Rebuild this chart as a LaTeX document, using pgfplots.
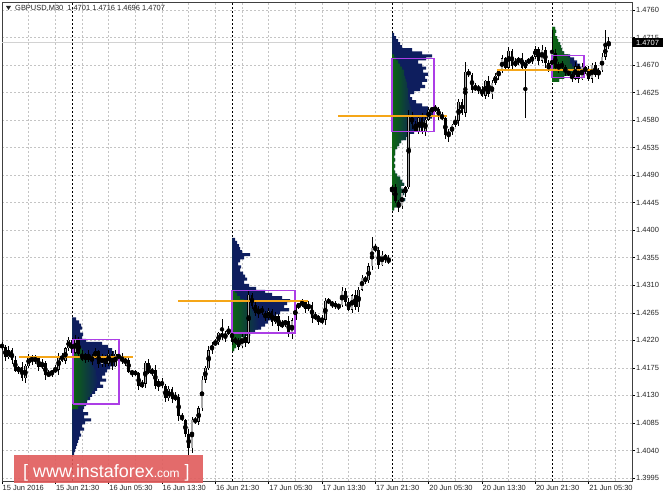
\documentclass[border=0pt]{standalone}
\usepackage{fontspec}
\setmainfont{Liberation Sans}
\usepackage{pgfplots}
\usepackage{pgfplotstable}
\pgfplotsset{compat=1.18}

\definecolor{navyc}{RGB}{14,30,94}
\definecolor{greenc}{RGB}{12,102,16}
\definecolor{vabox}{RGB}{172,62,230}
\definecolor{poc}{RGB}{245,166,24}
\definecolor{gridc}{RGB}{196,196,196}
\definecolor{bullc}{RGB}{170,170,170}
\definecolor{wmred}{RGB}{224,92,92}

% GBPUSD M30 bars: index, open, high, low, close
\pgfplotstableread{
x o h l c
0 1.4212 1.4217 1.4205 1.4209
1 1.4209 1.4212 1.4187 1.4193
2 1.4193 1.4211 1.4190 1.4204
3 1.4204 1.4208 1.4181 1.4188
4 1.4188 1.4194 1.4168 1.4170
5 1.4170 1.4178 1.4165 1.4176
6 1.4176 1.4184 1.4154 1.4158
7 1.4158 1.4182 1.4150 1.4178
8 1.4178 1.4198 1.4175 1.4193
9 1.4193 1.4196 1.4180 1.4186
10 1.4186 1.4196 1.4182 1.4191
11 1.4191 1.4194 1.4170 1.4176
12 1.4176 1.4190 1.4173 1.4183
13 1.4183 1.4187 1.4156 1.4163
14 1.4163 1.4171 1.4161 1.4165
15 1.4165 1.4172 1.4160 1.4170
16 1.4170 1.4180 1.4166 1.4172
17 1.4172 1.4199 1.4164 1.4195
18 1.4195 1.4200 1.4184 1.4187
19 1.4187 1.4210 1.4181 1.4207
20 1.4207 1.4226 1.4203 1.4221
21 1.4221 1.4224 1.4194 1.4200
22 1.4200 1.4228 1.4197 1.4221
23 1.4221 1.4225 1.4191 1.4198
24 1.4198 1.4204 1.4186 1.4188
25 1.4188 1.4199 1.4183 1.4197
26 1.4197 1.4205 1.4184 1.4188
27 1.4188 1.4197 1.4180 1.4193
28 1.4193 1.4207 1.4190 1.4202
29 1.4202 1.4205 1.4175 1.4181
30 1.4181 1.4198 1.4177 1.4193
31 1.4193 1.4196 1.4176 1.4182
32 1.4182 1.4205 1.4179 1.4198
33 1.4198 1.4202 1.4171 1.4178
34 1.4178 1.4204 1.4176 1.4198
35 1.4198 1.4200 1.4186 1.4191
36 1.4191 1.4199 1.4182 1.4186
37 1.4186 1.4192 1.4178 1.4188
38 1.4188 1.4193 1.4166 1.4169
39 1.4169 1.4172 1.4161 1.4167
40 1.4167 1.4172 1.4162 1.4166
41 1.4166 1.4169 1.4139 1.4145
42 1.4145 1.4156 1.4142 1.4149
43 1.4149 1.4187 1.4142 1.4183
44 1.4183 1.4189 1.4165 1.4167
45 1.4167 1.4174 1.4162 1.4172
46 1.4172 1.4180 1.4141 1.4145
47 1.4145 1.4157 1.4137 1.4153
48 1.4153 1.4158 1.4142 1.4145
49 1.4145 1.4148 1.4119 1.4125
50 1.4125 1.4146 1.4121 1.4141
51 1.4141 1.4144 1.4118 1.4124
52 1.4124 1.4135 1.4121 1.4128
53 1.4128 1.4132 1.4089 1.4096
54 1.4096 1.4102 1.4088 1.4090
55 1.4090 1.4092 1.4062 1.4067
56 1.4067 1.4075 1.4033 1.4044
57 1.4044 1.4094 1.4036 1.4090
58 1.4090 1.4095 1.4084 1.4087
59 1.4087 1.4112 1.4081 1.4109
60 1.4109 1.4161 1.4105 1.4156
61 1.4156 1.4178 1.4150 1.4175
62 1.4175 1.4211 1.4172 1.4204
63 1.4204 1.4217 1.4197 1.4213
64 1.4213 1.4223 1.4211 1.4217
65 1.4217 1.4234 1.4212 1.4232
66 1.4232 1.4255 1.4221 1.4225
67 1.4225 1.4235 1.4217 1.4231
68 1.4231 1.4244 1.4228 1.4239
69 1.4239 1.4242 1.4212 1.4218
70 1.4218 1.4226 1.4214 1.4221
71 1.4221 1.4224 1.4204 1.4210
72 1.4210 1.4233 1.4207 1.4226
73 1.4226 1.4230 1.4209 1.4216
74 1.4216 1.4301 1.4214 1.4295
75 1.4295 1.4297 1.4272 1.4277
76 1.4277 1.4285 1.4260 1.4264
77 1.4264 1.4276 1.4256 1.4272
78 1.4272 1.4277 1.4262 1.4265
79 1.4265 1.4268 1.4251 1.4257
80 1.4257 1.4273 1.4253 1.4268
81 1.4268 1.4271 1.4244 1.4250
82 1.4250 1.4266 1.4247 1.4259
83 1.4259 1.4263 1.4236 1.4243
84 1.4243 1.4253 1.4241 1.4247
85 1.4247 1.4254 1.4242 1.4252
86 1.4252 1.4260 1.4226 1.4230
87 1.4230 1.4257 1.4222 1.4253
88 1.4253 1.4282 1.4250 1.4277
89 1.4277 1.4281 1.4271 1.4278
90 1.4278 1.4288 1.4274 1.4283
91 1.4283 1.4286 1.4265 1.4271
92 1.4271 1.4285 1.4268 1.4278
93 1.4278 1.4282 1.4249 1.4256
94 1.4256 1.4266 1.4254 1.4260
95 1.4260 1.4262 1.4245 1.4250
96 1.4250 1.4262 1.4246 1.4254
97 1.4254 1.4289 1.4246 1.4285
98 1.4285 1.4290 1.4279 1.4282
99 1.4282 1.4285 1.4273 1.4279
100 1.4279 1.4284 1.4272 1.4276
101 1.4276 1.4280 1.4270 1.4277
102 1.4277 1.4308 1.4274 1.4301
103 1.4301 1.4305 1.4276 1.4283
104 1.4283 1.4289 1.4268 1.4270
105 1.4270 1.4296 1.4265 1.4294
106 1.4294 1.4302 1.4270 1.4274
107 1.4274 1.4307 1.4266 1.4303
108 1.4303 1.4327 1.4300 1.4322
109 1.4322 1.4325 1.4312 1.4318
110 1.4318 1.4346 1.4314 1.4341
111 1.4341 1.4389 1.4335 1.4371
112 1.4371 1.4378 1.4365 1.4368
113 1.4368 1.4372 1.4336 1.4343
114 1.4343 1.4366 1.4341 1.4360
115 1.4360 1.4362 1.4347 1.4352
116 1.4352 1.4360 1.4344 1.4348
117 1.4465 1.4474 1.4457 1.4470
118 1.4470 1.4475 1.4444 1.4447
119 1.4447 1.4450 1.4430 1.4439
120 1.4439 1.4466 1.4435 1.4461
121 1.4461 1.4473 1.4455 1.4470
122 1.4470 1.4596 1.4467 1.4589
123 1.4589 1.4593 1.4566 1.4573
124 1.4573 1.4579 1.4560 1.4562
125 1.4562 1.4586 1.4557 1.4584
126 1.4584 1.4592 1.4558 1.4562
127 1.4562 1.4585 1.4554 1.4581
128 1.4581 1.4602 1.4578 1.4597
129 1.4597 1.4601 1.4591 1.4598
130 1.4598 1.4604 1.4594 1.4599
131 1.4599 1.4602 1.4580 1.4586
132 1.4586 1.4593 1.4580 1.4583
133 1.4583 1.4587 1.4549 1.4556
134 1.4556 1.4566 1.4545 1.4560
135 1.4560 1.4574 1.4555 1.4572
136 1.4572 1.4587 1.4568 1.4579
137 1.4579 1.4614 1.4571 1.4610
138 1.4610 1.4615 1.4589 1.4592
139 1.4592 1.4675 1.4586 1.4659
140 1.4659 1.4664 1.4650 1.4654
141 1.4654 1.4657 1.4624 1.4630
142 1.4630 1.4641 1.4627 1.4634
143 1.4634 1.4638 1.4623 1.4630
144 1.4630 1.4636 1.4618 1.4620
145 1.4620 1.4646 1.4615 1.4644
146 1.4644 1.4652 1.4618 1.4622
147 1.4622 1.4645 1.4614 1.4641
148 1.4641 1.4657 1.4638 1.4652
149 1.4652 1.4664 1.4646 1.4661
150 1.4661 1.4686 1.4657 1.4681
151 1.4681 1.4684 1.4660 1.4666
152 1.4666 1.4700 1.4663 1.4693
153 1.4693 1.4697 1.4662 1.4669
154 1.4669 1.4681 1.4667 1.4675
155 1.4675 1.4684 1.4670 1.4682
156 1.4682 1.4690 1.4662 1.4666
157 1.4666 1.4679 1.4583 1.4675
158 1.4675 1.4682 1.4672 1.4677
159 1.4677 1.4687 1.4671 1.4684
160 1.4684 1.4701 1.4680 1.4696
161 1.4696 1.4699 1.4671 1.4677
162 1.4677 1.4702 1.4674 1.4695
163 1.4695 1.4699 1.4666 1.4673
164 1.4673 1.4679 1.4658 1.4660
165 1.4660 1.4728 1.4655 1.4689
166 1.4689 1.4697 1.4661 1.4665
167 1.4665 1.4675 1.4657 1.4671
168 1.4671 1.4676 1.4664 1.4667
169 1.4667 1.4670 1.4652 1.4658
170 1.4658 1.4663 1.4652 1.4656
171 1.4656 1.4659 1.4642 1.4648
172 1.4648 1.4675 1.4645 1.4668
173 1.4668 1.4672 1.4640 1.4647
174 1.4647 1.4673 1.4645 1.4667
175 1.4667 1.4669 1.4655 1.4660
176 1.4660 1.4668 1.4644 1.4648
177 1.4648 1.4674 1.4640 1.4670
178 1.4670 1.4675 1.4651 1.4654
179 1.4654 1.4665 1.4648 1.4662
180 1.4662 1.4689 1.4658 1.4684
181 1.4684 1.4728 1.4678 1.4701
182 1.4701 1.4716 1.4696 1.4707
}\candles

% volume profiles: price level, total length (px), early part (px)
\pgfplotstableread{
p t g
1.4255 0 0
1.4255 4 0
1.4250 7 0
1.4245 9 0
1.4240 10 0
1.4235 8 0
1.4230 11 0
1.4225 10 0
1.4220 14 3
1.4215 30 6
1.4210 36 8
1.4205 40 10
1.4200 42 12
1.4195 46 14
1.4190 45 16
1.4185 42 18
1.4180 44 20
1.4175 38 22
1.4170 35 24
1.4165 33 24
1.4160 30 25
1.4155 34 26
1.4150 28 25
1.4145 31 24
1.4140 25 22
1.4135 23 20
1.4130 20 18
1.4125 18 16
1.4120 15 14
1.4115 14 12
1.4110 12 6
1.4105 11 0
1.4100 16 0
1.4095 12 0
1.4090 19 0
1.4085 13 0
1.4080 10 0
1.4075 12 0
1.4070 8 0
1.4065 9 0
1.4060 7 0
1.4055 6 0
1.4050 5 0
1.4045 4 0
1.4040 3 0
1.4035 2 0
1.4030 0 0
}\profA

\pgfplotstableread{
p t g
1.4385 0 0
1.4385 3 0
1.4380 5 0
1.4375 7 0
1.4370 8 0
1.4365 10 0
1.4360 18 0
1.4355 12 0
1.4350 8 0
1.4345 6 0
1.4340 9 0
1.4335 8 0
1.4330 11 0
1.4325 13 0
1.4320 15 0
1.4315 12 0
1.4310 17 0
1.4305 24 0
1.4300 33 3
1.4295 40 5
1.4290 50 8
1.4285 58 12
1.4280 55 15
1.4275 52 18
1.4270 57 20
1.4265 48 22
1.4260 44 24
1.4255 40 26
1.4250 36 27
1.4245 33 27
1.4240 29 26
1.4235 23 22
1.4230 18 18
1.4225 13 13
1.4220 10 10
1.4215 6 6
1.4210 4 4
1.4205 2 2
1.4200 0 0
}\profB

\pgfplotstableread{
p t g
1.4720 0 0
1.4720 2 0
1.4715 4 0
1.4710 6 0
1.4705 8 0
1.4700 10 0
1.4695 20 0
1.4690 30 0
1.4685 40 2
1.4680 34 4
1.4675 26 6
1.4670 30 8
1.4665 34 10
1.4660 31 12
1.4655 36 12
1.4650 33 13
1.4645 35 14
1.4640 30 15
1.4635 33 15
1.4630 28 16
1.4625 22 16
1.4620 18 16
1.4615 20 16
1.4610 24 17
1.4605 30 18
1.4600 36 19
1.4595 39 20
1.4590 42 21
1.4585 40 22
1.4580 33 22
1.4575 30 22
1.4570 31 22
1.4565 28 20
1.4560 22 18
1.4555 16 16
1.4550 14 14
1.4545 9 9
1.4540 7 7
1.4535 5 5
1.4530 3 3
1.4525 3 3
1.4520 2 2
1.4515 3 3
1.4510 2 2
1.4505 3 3
1.4500 2 2
1.4495 3 3
1.4490 5 5
1.4485 8 8
1.4480 10 10
1.4475 12 12
1.4470 9 9
1.4465 14 14
1.4460 12 12
1.4455 10 10
1.4450 13 13
1.4445 8 8
1.4440 5 5
1.4435 2 2
1.4430 0 0
}\profC

\pgfplotstableread{
p t g
1.4730 0 0
1.4730 3 3
1.4725 4 4
1.4720 3 3
1.4715 5 5
1.4710 6 6
1.4705 8 8
1.4700 9 9
1.4695 10 10
1.4690 12 12
1.4685 18 16
1.4680 22 18
1.4675 25 18
1.4670 28 20
1.4665 32 22
1.4660 30 22
1.4655 24 20
1.4650 12 12
1.4645 7 7
1.4640 0 0
}\profD

\begin{document}
\begin{tikzpicture}
\useasboundingbox (0,0) rectangle (664bp,498bp);
\fill[white] (0,0) rectangle (664bp,498bp);
\begin{axis}[
    at={(2bp,17bp)}, anchor=south west,
    scale only axis, width=630bp, height=479bp,
    xmin=0, xmax=189, ymin=1.39901, ymax=1.47731,
    axis line style={black!75, line width=0.8bp},
    tick align=outside, major tick length=3bp, minor tick length=0bp,
    xtick pos=left, ytick pos=right, yticklabel pos=right,
    tick style={black, line width=0.6bp},
    xtick={0,16,...,176},
    minor xtick={8,24,...,184},
    xticklabels={15 Jun 2016, 15 Jun 21:30, 16 Jun 05:30, 16 Jun 13:30, 16 Jun 21:30, 17 Jun 05:30, 17 Jun 13:30, 17 Jun 21:30, 20 Jun 05:30, 20 Jun 13:30, 20 Jun 21:30, 21 Jun 05:30},
    ytick={1.3995,1.4040,1.4085,1.4130,1.4175,1.4220,1.4265,1.4310,1.4355,1.4400,1.4445,1.4490,1.4535,1.4580,1.4625,1.4670,1.4715,1.4760},
    scaled y ticks=false,
    grid=both,
    major grid style={gridc, dash pattern=on 2bp off 2bp, line width=0.6bp},
    minor grid style={gridc, dash pattern=on 2bp off 2bp, line width=0.6bp},
    ticklabel style={font=\fontsize{7.5}{9}\selectfont, text=black!85},
    xticklabel style={anchor=north west, inner sep=1bp, xshift=-0.5bp},
    yticklabel style={anchor=west, inner sep=1bp, /pgf/number format/.cd, fixed, fixed zerofill, precision=4, assume math mode=true},
    extra x ticks={21,69,117,165},
    extra x tick labels={},
    extra x tick style={grid=major, major tick length=0bp, major grid style={black, dash pattern=on 2bp off 2bp, line width=0.8bp}},
]
% bid line
\addplot[gray!35, line width=0.8bp] coordinates {(0,1.4707) (189,1.4707)};

% volume profiles
\addplot[draw=none, fill=navyc, const plot mark right] table[x expr=21+0.3*\thisrow{t}, y expr=\thisrow{p}+0.00025] {\profA};
\addplot[draw=none, left color=greenc, right color=navyc, const plot mark right] table[x expr=21+0.3*\thisrow{g}, y expr=\thisrow{p}+0.00025] {\profA};
\addplot[draw=none, fill=navyc, const plot mark right] table[x expr=69+0.3*\thisrow{t}, y expr=\thisrow{p}+0.00025] {\profB};
\addplot[draw=none, left color=greenc, right color=navyc, const plot mark right] table[x expr=69+0.3*\thisrow{g}, y expr=\thisrow{p}+0.00025] {\profB};
\addplot[draw=none, fill=navyc, const plot mark right] table[x expr=117+0.3*\thisrow{t}, y expr=\thisrow{p}+0.00025] {\profC};
\addplot[draw=none, left color=greenc, right color=navyc, const plot mark right] table[x expr=117+0.3*\thisrow{g}, y expr=\thisrow{p}+0.00025] {\profC};
\addplot[draw=none, fill=navyc, const plot mark right] table[x expr=165+0.3*\thisrow{t}, y expr=\thisrow{p}+0.00025] {\profD};
\addplot[draw=none, left color=greenc, right color=greenc!55!navyc, const plot mark right] table[x expr=165+0.3*\thisrow{g}, y expr=\thisrow{p}+0.00025] {\profD};

% candles: wicks, bodies, bull fill
\addplot[only marks, mark=none, error bars/.cd, y dir=both, y explicit, error mark=none,
    error bar style={black, solid, line width=0.8bp}]
    table[x=x, y expr=(\thisrow{h}+\thisrow{l})/2, y error expr=(\thisrow{h}-\thisrow{l})/2] {\candles};
\addplot[only marks, mark=none, error bars/.cd, y dir=both, y explicit, error mark=none,
    error bar style={black, solid, line width=2.8bp}]
    table[x=x, y expr=(\thisrow{o}+\thisrow{c})/2, y error expr={max(abs(\thisrow{c}-\thisrow{o})/2,0.00004)}] {\candles};
\addplot[only marks, mark=none, restrict expr to domain={\thisrow{c}-\thisrow{o}}{0.00005:1},
    error bars/.cd, y dir=both, y explicit, error mark=none,
    error bar style={bullc, solid, line width=1.4bp}]
    table[x=x, y expr=(\thisrow{o}+\thisrow{c})/2, y error expr={max((\thisrow{c}-\thisrow{o})/2-0.00006,0)}] {\candles};

% value areas
\addplot[vabox, line width=1.1bp] coordinates {(21.3,1.4116) (35.1,1.4116) (35.1,1.4221) (21.3,1.4221) (21.3,1.4116)};
\addplot[vabox, line width=1.1bp] coordinates {(69.0,1.4232) (87.9,1.4232) (87.9,1.4301) (69.0,1.4301) (69.0,1.4232)};
\addplot[vabox, line width=1.1bp] coordinates {(117.0,1.4561) (129.6,1.4561) (129.6,1.4680) (117.0,1.4680) (117.0,1.4561)};
\addplot[vabox, line width=1.1bp] coordinates {(165.0,1.4649) (174.6,1.4649) (174.6,1.4686) (165.0,1.4686) (165.0,1.4649)};

% points of control
\addplot[poc, line width=1.6bp] coordinates {(5.1,1.4193) (39.3,1.4193)};
\addplot[poc, line width=1.6bp] coordinates {(52.8,1.4284) (91.8,1.4284)};
\addplot[poc, line width=1.6bp] coordinates {(100.8,1.4587) (133.5,1.4587)};
\addplot[poc, line width=1.6bp] coordinates {(148.5,1.4662) (178.5,1.4662)};
\end{axis}

% header
\fill[black!85] (6bp,492bp) -- (11bp,492bp) -- (8.5bp,488bp) -- cycle;
\node[anchor=west, inner sep=0pt, font=\fontsize{7.5}{9}\selectfont, text=black!85] at (15bp,490bp)
    {GBPUSD,M30\hspace{4bp}1.4701 1.4716 1.4696 1.4707};

% current price
\fill[black] (632bp,451bp) rectangle (663bp,460bp);
\node[inner sep=0pt, font=\fontsize{7.5}{9}\selectfont, text=white] at (647.5bp,455.5bp) {1.4707};

% watermark
\fill[wmred, opacity=0.9] (14bp,15bp) rectangle (203bp,43bp);
\node[anchor=base west, inner sep=0pt, text=white] at (23bp,21bp)
    {\fontsize{18}{18}\selectfont [\ www.instaforex\fontsize{12}{12}\selectfont.com\fontsize{18}{18}\selectfont\ ]};
\end{tikzpicture}
\end{document}
